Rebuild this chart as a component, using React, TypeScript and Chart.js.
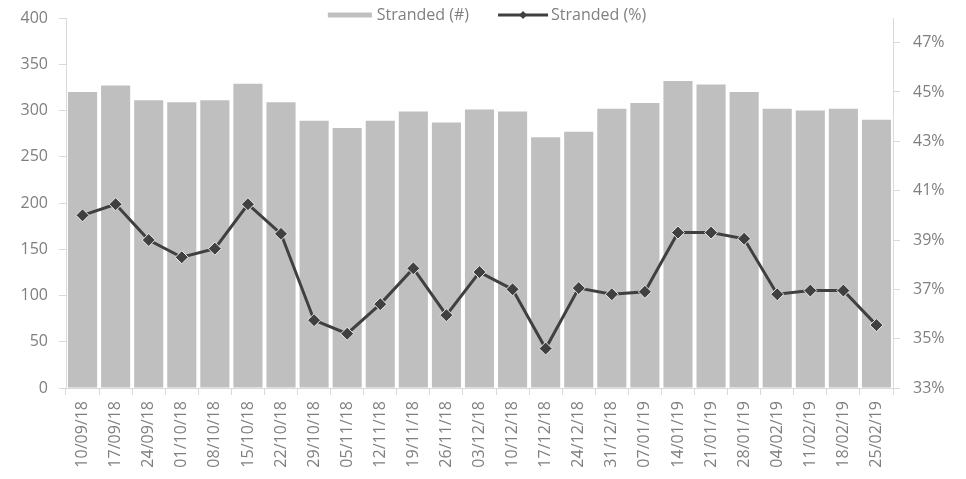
import React, { useEffect, useRef } from "react";
import { Chart, registerables } from "chart.js";

Chart.register(...registerables);

const weeks = [
  "10/09/18", "17/09/18", "24/09/18", "01/10/18", "08/10/18", "15/10/18", "22/10/18",
  "29/10/18", "05/11/18", "12/11/18", "19/11/18", "26/11/18", "03/12/18", "10/12/18",
  "17/12/18", "24/12/18", "31/12/18", "07/01/19", "14/01/19", "21/01/19", "28/01/19",
  "04/02/19", "11/02/19", "18/02/19", "25/02/19",
];

const strandedCount = [
  320, 327, 311, 309, 311, 329, 309, 289, 281, 289, 299, 287, 301, 299,
  271, 277, 302, 308, 332, 328, 320, 302, 300, 302, 290,
];

const strandedPct = [
  40.0, 40.45, 39.0, 38.3, 38.65, 40.45, 39.25, 35.75, 35.2, 36.4, 37.85, 35.95, 37.7, 37.0,
  34.6, 37.05, 36.8, 36.9, 39.3, 39.3, 39.05, 36.8, 36.95, 36.95, 35.55,
];

const leftTicks = [0, 50, 100, 150, 200, 250, 300, 350, 400];
const rightTicks = [33, 35, 37, 39, 41, 43, 45, 47];

const seriesNames = ["Stranded (#)", "Stranded (%)"];

const TEXT = "#7f7f7f";
const AXIS = "#d9d9d9";
const BAR = "#bfbfbf";
const LINE = "#404040";
const FONT_FAMILY = '"Open Sans", "Noto Sans", sans-serif';
const FONT_SIZE = 16;

const legendPlugin = {
  id: "excelLegend",
  afterDraw(chart: any) {
    const ctx = chart.ctx;
    ctx.save();
    ctx.font = `${FONT_SIZE}px ${FONT_FAMILY}`;
    ctx.textBaseline = "middle";
    ctx.fillStyle = TEXT;
    const w1 = ctx.measureText(seriesNames[0]).width;
    const w2 = ctx.measureText(seriesNames[1]).width;
    const sw1 = 44, sw2 = 50, g1 = 5, g2 = 3, gap = 29;
    const total = sw1 + g1 + w1 + gap + sw2 + g2 + w2;
    let x = (chart.width - total) / 2 + 4;
    const y = 15;
    ctx.strokeStyle = BAR;
    ctx.lineWidth = 5;
    ctx.beginPath();
    ctx.moveTo(x, y);
    ctx.lineTo(x + sw1, y);
    ctx.stroke();
    x += sw1 + g1;
    ctx.textAlign = "left";
    ctx.fillText(seriesNames[0], x, y);
    x += w1 + gap;
    ctx.strokeStyle = LINE;
    ctx.lineWidth = 3;
    ctx.beginPath();
    ctx.moveTo(x, y);
    ctx.lineTo(x + sw2, y);
    ctx.stroke();
    const cx = x + sw2 / 2;
    ctx.fillStyle = LINE;
    ctx.beginPath();
    ctx.moveTo(cx, y - 4);
    ctx.lineTo(cx + 4, y);
    ctx.lineTo(cx, y + 4);
    ctx.lineTo(cx - 4, y);
    ctx.closePath();
    ctx.fill();
    x += sw2 + g2;
    ctx.fillStyle = TEXT;
    ctx.fillText(seriesNames[1], x, y);
    ctx.restore();
  },
};

export default function App() {
  const ref = useRef<HTMLCanvasElement | null>(null);

  useEffect(() => {
    if (!ref.current) return;
    const font = { family: FONT_FAMILY, size: FONT_SIZE };
    const chart = new Chart(ref.current, {
      type: "bar",
      data: {
        labels: weeks,
        datasets: [
          {
            type: "line",
            label: seriesNames[1],
            data: strandedPct,
            yAxisID: "y1",
            borderColor: LINE,
            borderWidth: 3,
            pointStyle: "rectRot",
            pointRadius: 6.5,
            pointBackgroundColor: LINE,
            pointBorderColor: "#e8e8e8",
            pointBorderWidth: 1,
            tension: 0,
            order: 0,
          } as any,
          {
            type: "bar",
            label: seriesNames[0],
            data: strandedCount,
            yAxisID: "y",
            backgroundColor: BAR,
            borderWidth: 0,
            barPercentage: 0.88,
            categoryPercentage: 1,
            order: 1,
          } as any,
        ],
      },
      options: {
        responsive: false,
        animation: false,
        devicePixelRatio: 1,
        layout: { padding: { top: 18, left: 0, right: 0, bottom: 0 } },
        plugins: {
          legend: { display: false },
          tooltip: { enabled: false },
        },
        scales: {
          x: {
            offset: true,
            grid: {
              offset: true,
              drawOnChartArea: false,
              drawTicks: true,
              tickLength: 7,
              color: AXIS,
            },
            border: { color: AXIS },
            ticks: {
              color: TEXT,
              font,
              minRotation: 90,
              maxRotation: 90,
              autoSkip: false,
              padding: 6,
            },
            afterFit(axis: any) {
              axis.height = 91;
              axis.paddingLeft = 0;
              axis.paddingRight = 0;
            },
          },
          y: {
            position: "left",
            min: 0,
            max: 400,
            grid: { drawOnChartArea: false, tickLength: 7, color: AXIS },
            border: { color: AXIS },
            ticks: { color: TEXT, font, padding: 11 },
            afterBuildTicks(axis: any) {
              axis.ticks = leftTicks.map((v) => ({ value: v }));
            },
            afterFit(axis: any) {
              axis.width = 66;
              axis.paddingTop = 0;
              axis.paddingBottom = 0;
            },
          },
          y1: {
            position: "right",
            min: 33,
            max: 48,
            grid: { drawOnChartArea: false, tickLength: 7, color: AXIS },
            border: { color: AXIS },
            ticks: {
              color: TEXT,
              font,
              padding: 13,
              callback: (v: any) => `${v}%`,
            },
            afterBuildTicks(axis: any) {
              axis.ticks = rightTicks.map((v) => ({ value: v }));
            },
            afterFit(axis: any) {
              axis.width = 73;
              axis.paddingTop = 0;
              axis.paddingBottom = 0;
            },
          },
        },
      } as any,
      plugins: [legendPlugin],
    });
    return () => chart.destroy();
  }, []);

  return (
    <div style={{ position: "fixed", left: 0, top: 0, width: 966, height: 479, background: "#fff" }}>
      <canvas ref={ref} width={966} height={479} style={{ display: "block" }} />
    </div>
  );
}
